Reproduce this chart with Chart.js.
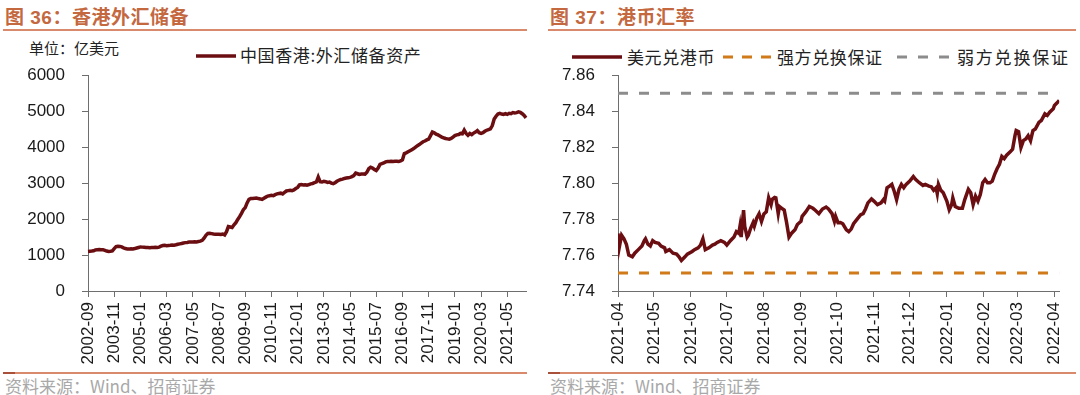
<!DOCTYPE html>
<html><head><meta charset="utf-8">
<script src="https://cdn.jsdelivr.net/npm/chart.js@4.4.0/dist/chart.umd.min.js"></script>
<style>
body{margin:0;width:1080px;height:395px;background:#fff;position:relative;overflow:hidden;font-family:"Liberation Sans","Noto Sans CJK SC",sans-serif;}
.title{position:absolute;top:2px;font-size:19px;font-weight:bold;color:#c4683f;font-family:"Liberation Sans","Noto Sans CJK SC",sans-serif;letter-spacing:0.5px;}
.rule{position:absolute;height:2px;background:#d98a6c;}
.foot{position:absolute;top:376px;font-size:17px;line-height:20px;color:#a8a8a8;font-family:"Noto Sans CJK SC",sans-serif;}
.txt{position:absolute;font-size:15px;color:#222;font-family:"Noto Sans CJK SC",sans-serif;line-height:18px;}
.lg{position:absolute;font-size:17px;color:#222;font-family:"Noto Sans CJK SC",sans-serif;line-height:20px;letter-spacing:0.6px;}
canvas{position:absolute;top:48px;}
svg{position:absolute;}
</style></head>
<body>
<div class="title" style="left:5px">图 36：香港外汇储备</div>
<div class="title" style="left:550px">图 37：港币汇率</div>
<div class="rule" style="left:3px;width:524px;top:29px"></div>
<div class="rule" style="left:548px;width:528px;top:29px"></div>
<div class="rule" style="left:3px;width:524px;top:372px;height:1.5px"></div>
<div class="rule" style="left:548px;width:528px;top:372px;height:1.5px"></div>
<div class="rule" style="left:3px;width:12px;top:372px;height:1.5px;background:#a8503a"></div>
<div class="rule" style="left:548px;width:12px;top:372px;height:1.5px;background:#a8503a"></div>
<div class="foot" style="left:5px">资料来源：Wind、招商证券</div>
<div class="foot" style="left:550px">资料来源：Wind、招商证券</div>

<div class="txt" style="left:29px;top:39px">单位：亿美元</div>
<svg style="left:196px;top:50px" width="42" height="12"><line x1="0" y1="6" x2="40" y2="6" stroke="#6b0e12" stroke-width="3.5"/></svg>
<div class="lg" style="left:240px;top:45px">中国香港:外汇储备资产</div>

<svg style="left:572px;top:51px" width="52" height="12"><line x1="0" y1="6" x2="50" y2="6" stroke="#6b0e12" stroke-width="3.5"/></svg>
<div class="lg" style="left:627px;top:47px">美元兑港币</div>
<svg style="left:723px;top:51px" width="52" height="12"><line x1="0" y1="6" x2="49" y2="6" stroke="#d07a1a" stroke-width="3" stroke-dasharray="10 9"/></svg>
<div class="lg" style="left:777px;top:47px">强方兑换保证</div>
<svg style="left:897px;top:51px" width="56" height="12"><line x1="0" y1="6" x2="53" y2="6" stroke="#8c8c8c" stroke-width="3" stroke-dasharray="10 11"/></svg>
<div class="lg" style="left:957px;top:47px;letter-spacing:1.8px">弱方兑换保证</div>

<canvas id="c1" width="540" height="322" style="left:0px"></canvas>
<canvas id="c2" width="540" height="322" style="left:540px"></canvas>

<script>
// ---------- Chart 36: HK FX reserves (100 million USD), monthly from 2002-09 ----------
const reserveStart = '2002-09';
const reserveValues = [
 1100,1105,1110,1118,
 1140,1150,1155,1150,1150,1130,1110,1100,1105,1115,1180,1235,
 1245,1240,1225,1200,1180,1170,1165,1175,1170,1180,1195,1210,
 1225,1220,1215,1210,1210,1205,1210,1210,1215,1210,1220,1245,
 1265,1270,1260,1265,1270,1280,1275,1285,1300,1310,1320,1335,
 1345,1350,1360,1365,1365,1370,1365,1375,1385,1410,1470,1550,
 1600,1605,1595,1585,1580,1575,1580,1570,1585,1560,1650,1790,
 1780,1765,1840,1900,1990,2067,2160,2260,2320,2450,2550,2570,
 2575,2580,2585,2570,2560,2545,2580,2610,2640,2650,2660,2650,
 2680,2700,2710,2720,2700,2740,2780,2790,2800,2790,2810,2850,
 2880,2950,2960,2950,2955,2940,2960,2980,2990,3010,3030,3170,
 3040,3030,3050,3040,3020,3030,3000,2985,3010,3050,3080,3100,
 3110,3130,3140,3150,3160,3180,3210,3280,3260,3240,3250,3255,
 3250,3300,3400,3440,3420,3380,3350,3420,3520,3540,3560,3590,
 3600,3600,3610,3600,3605,3610,3600,3620,3650,3820,3840,3870,
 3900,3930,3960,4000,4040,4070,4110,4150,4170,4200,4220,4320,
 4420,4400,4360,4340,4310,4280,4260,4240,4230,4220,4240,4280,
 4320,4340,4350,4380,4370,4470,4380,4330,4380,4350,4390,4420,
 4460,4400,4380,4400,4440,4470,4490,4510,4600,4780,4860,4920,
 4940,4920,4910,4930,4910,4940,4930,4960,4950,4960,4980,4965,
 4930,4880,4815
];
const reserveTickLabels = ['2002-09','2003-11','2005-01','2006-03','2007-05','2008-07','2009-09','2010-11','2012-01','2013-03','2014-05','2015-07','2016-09','2017-11','2019-01','2020-03','2021-05'];
const reserveYTicks = [0,1000,2000,3000,4000,5000,6000];

// month categories
const reserveMonths = [];
{
  let y = +reserveStart.slice(0,4), m = +reserveStart.slice(5,7);
  for (let i = 0; i < reserveValues.length; i++) {
    reserveMonths.push(y + '-' + String(m).padStart(2,'0'));
    m++; if (m > 12) { m = 1; y++; }
  }
}

// ---------- Chart 37: USD/HKD ----------
const fxDates = [
 '2021-04-01','2021-04-02','2021-04-04','2021-04-06','2021-04-08','2021-04-09','2021-04-10','2021-04-13','2021-04-15','2021-04-18','2021-04-21','2021-04-23','2021-04-24','2021-04-26','2021-04-28','2021-04-30',
 '2021-05-02','2021-05-05','2021-05-07','2021-05-10','2021-05-11','2021-05-14','2021-05-17','2021-05-20','2021-05-22','2021-05-24','2021-05-27','2021-05-29',
 '2021-06-02','2021-06-04','2021-06-07','2021-06-09','2021-06-11','2021-06-13','2021-06-16','2021-06-19','2021-06-21','2021-06-23','2021-06-26','2021-06-29',
 '2021-07-01','2021-07-04','2021-07-07','2021-07-09','2021-07-11','2021-07-12','2021-07-13','2021-07-15','2021-07-16','2021-07-18','2021-07-19','2021-07-21','2021-07-23','2021-07-24','2021-07-26','2021-07-28','2021-07-30',
 '2021-08-01','2021-08-03','2021-08-05','2021-08-07','2021-08-08','2021-08-10','2021-08-11','2021-08-13','2021-08-14','2021-08-16','2021-08-18','2021-08-20','2021-08-22','2021-08-24','2021-08-27','2021-08-29',
 '2021-09-01','2021-09-02','2021-09-05','2021-09-08','2021-09-11','2021-09-13','2021-09-16','2021-09-19','2021-09-22','2021-09-24','2021-09-27','2021-09-29','2021-09-30',
 '2021-10-02','2021-10-04','2021-10-06','2021-10-09','2021-10-11','2021-10-13','2021-10-15','2021-10-18','2021-10-21','2021-10-23','2021-10-25','2021-10-27','2021-10-30',
 '2021-11-01','2021-11-04','2021-11-07','2021-11-09','2021-11-10','2021-11-12','2021-11-14','2021-11-16','2021-11-18','2021-11-20','2021-11-22','2021-11-24','2021-11-26','2021-11-28',
 '2021-12-01','2021-12-04','2021-12-06','2021-12-09','2021-12-12','2021-12-14','2021-12-17','2021-12-19','2021-12-21','2021-12-23','2021-12-24','2021-12-25','2021-12-27','2021-12-29',
 '2022-01-01','2022-01-03','2022-01-05','2022-01-06','2022-01-08','2022-01-11','2022-01-14','2022-01-16','2022-01-19','2022-01-21','2022-01-23','2022-01-25','2022-01-27','2022-01-29','2022-01-31',
 '2022-02-02','2022-02-04','2022-02-06','2022-02-08','2022-02-10','2022-02-12','2022-02-14','2022-02-16','2022-02-18','2022-02-20','2022-02-23','2022-02-25','2022-02-27','2022-02-28',
 '2022-03-02','2022-03-04','2022-03-06','2022-03-08','2022-03-10','2022-03-12','2022-03-14','2022-03-16','2022-03-19','2022-03-21','2022-03-24','2022-03-26','2022-03-28','2022-03-31',
 '2022-04-01','2022-04-03','2022-04-05'
];
const fxValues = [
 7.772,7.764,7.771,7.769,7.766,7.763,7.760,7.759,7.761,7.763,7.765,7.768,7.769,7.766,7.765,7.768,
 7.767,7.7665,7.765,7.764,7.762,7.763,7.761,7.7605,7.759,7.757,7.759,7.7605,
 7.762,7.763,7.764,7.7655,7.769,7.763,7.764,7.7655,7.766,7.767,7.768,7.767,
 7.7655,7.768,7.770,7.773,7.772,7.776,7.770,7.785,7.776,7.770,7.771,7.775,7.778,7.776,7.7805,7.783,7.7787,
 7.7828,7.784,7.7918,7.788,7.791,7.792,7.7918,7.783,7.787,7.786,7.785,7.778,7.770,7.772,7.774,7.777,
 7.7787,7.7815,7.784,7.787,7.786,7.7849,7.783,7.7856,7.7867,7.7856,7.783,7.7787,7.7815,
 7.778,7.7781,7.7774,7.774,7.773,7.7744,7.7774,7.780,7.7824,7.783,7.7856,7.789,7.7912,
 7.790,7.788,7.789,7.7908,7.790,7.7974,7.7983,7.7993,7.7955,7.7908,7.7965,7.7993,7.7974,7.7993,
 7.8011,7.8036,7.802,7.8002,7.7987,7.7993,7.7983,7.798,7.796,7.7974,7.7942,7.7993,7.796,7.7946,
 7.790,7.7852,7.788,7.7918,7.787,7.786,7.786,7.7908,7.7965,7.7946,7.788,7.7927,7.790,7.7936,7.8002,
 7.802,7.8002,7.8002,7.8011,7.8049,7.808,7.8105,7.8148,7.8136,7.8155,7.8174,7.8189,7.8264,7.8292,
 7.8286,7.8198,7.8236,7.8245,7.8264,7.8236,7.8292,7.8301,7.8338,7.8348,7.8385,7.8376,7.8394,7.8413,
 7.8432,7.8445,7.846
];
const strongSideRate = 7.75;
const weakSideRate = 7.85;
const fxTickLabels = ['2021-04','2021-05','2021-06','2021-07','2021-08','2021-09','2021-10','2021-11','2021-12','2022-01','2022-02','2022-03','2022-04'];
const fxYTicks = [7.74,7.76,7.78,7.80,7.82,7.84,7.86];

const DAY = 86400000;
const fxBase = Date.parse(fxDates[0] + 'T00:00:00Z');
const dayNum = s => Math.round((Date.parse(s + 'T00:00:00Z') - fxBase) / DAY);
const fxPoints = fxDates.map((d, i) => ({x: dayNum(d), y: fxValues[i]}));
const fxEnd = dayNum(fxDates[fxDates.length - 1]);

const LINE_RED = '#6b0e12';
const AXIS = '#6e6e6e';
const TICKFONT = {family: '"Liberation Sans", Arial, sans-serif', size: 17};

// Chart 36
new Chart(document.getElementById('c1'), {
  type: 'line',
  data: {
    labels: reserveMonths,
    datasets: [{
      label: '中国香港:外汇储备资产',
      data: reserveValues,
      borderColor: LINE_RED, borderWidth: 3.5, pointRadius: 0, tension: 0, fill: false
    }]
  },
  options: {
    responsive: false, animation: false, devicePixelRatio: 1,
    layout: {padding: {top: 4, right: 14, left: 0, bottom: 0}},
    plugins: {legend: {display: false}, tooltip: {enabled: false}},
    scales: {
      x: {
        type: 'category', offset: false,
        afterFit: s => { s.height = 79; },
        grid: {drawOnChartArea: false, drawTicks: true, tickLength: 6, color: AXIS},
        border: {color: AXIS, width: 1},
        ticks: {
          autoSkip: false, maxRotation: 90, minRotation: 90, padding: 5,
          color: '#1a1a1a', font: TICKFONT,
          callback: function(v, i) {
            const lab = this.getLabelForValue(v);
            return reserveTickLabels.includes(lab) ? lab : null;
          }
        }
      },
      y: {
        min: reserveYTicks[0], max: reserveYTicks[reserveYTicks.length - 1],
        afterFit: s => { s.width = 88; },
        afterBuildTicks: s => { s.ticks = reserveYTicks.map(v => ({value: v})); },
        grid: {drawOnChartArea: false, drawTicks: true, tickLength: 6, color: AXIS},
        border: {color: AXIS, width: 1},
        ticks: {padding: 17, color: '#1a1a1a', font: TICKFONT, callback: v => String(v)}
      }
    }
  }
});

// Chart 37
new Chart(document.getElementById('c2'), {
  type: 'line',
  data: {
    datasets: [
      {label: '美元兑港币', data: fxPoints, borderColor: LINE_RED, borderWidth: 3.5, pointRadius: 0, tension: 0, fill: false, order: 0},
      {label: '强方兑换保证', data: [{x: 0, y: strongSideRate}, {x: fxEnd, y: strongSideRate}], borderColor: '#d07a1a', borderWidth: 3, borderDash: [10, 11], pointRadius: 0, fill: false, order: 1},
      {label: '弱方兑换保证', data: [{x: 0, y: weakSideRate}, {x: fxEnd, y: weakSideRate}], borderColor: '#8c8c8c', borderWidth: 3, borderDash: [10, 11], pointRadius: 0, fill: false, order: 2}
    ]
  },
  options: {
    responsive: false, animation: false, devicePixelRatio: 1,
    layout: {padding: {top: 5, right: 14, left: 0, bottom: 0}},
    plugins: {legend: {display: false}, tooltip: {enabled: false}},
    scales: {
      x: {
        type: 'linear', min: 0, max: fxEnd,
        afterFit: s => { s.height = 79; },
        afterBuildTicks: s => { s.ticks = fxTickLabels.map(l => ({value: dayNum(l + '-01')})); },
        grid: {drawOnChartArea: false, drawTicks: true, tickLength: 6, color: AXIS},
        border: {color: AXIS, width: 1},
        ticks: {
          autoSkip: false, maxRotation: 90, minRotation: 90, padding: 5,
          color: '#1a1a1a', font: TICKFONT,
          callback: v => { const l = fxTickLabels.find(t => dayNum(t + '-01') === v); return l === undefined ? null : l; }
        }
      },
      y: {
        min: fxYTicks[0], max: fxYTicks[fxYTicks.length - 1],
        afterFit: s => { s.width = 78; },
        afterBuildTicks: s => { s.ticks = fxYTicks.map(v => ({value: v})); },
        grid: {drawOnChartArea: false, drawTicks: true, tickLength: 6, color: AXIS},
        border: {color: AXIS, width: 1},
        ticks: {padding: 17, color: '#1a1a1a', font: TICKFONT, callback: v => Number(v).toFixed(2)}
      }
    }
  }
});
</script>
</body></html>
